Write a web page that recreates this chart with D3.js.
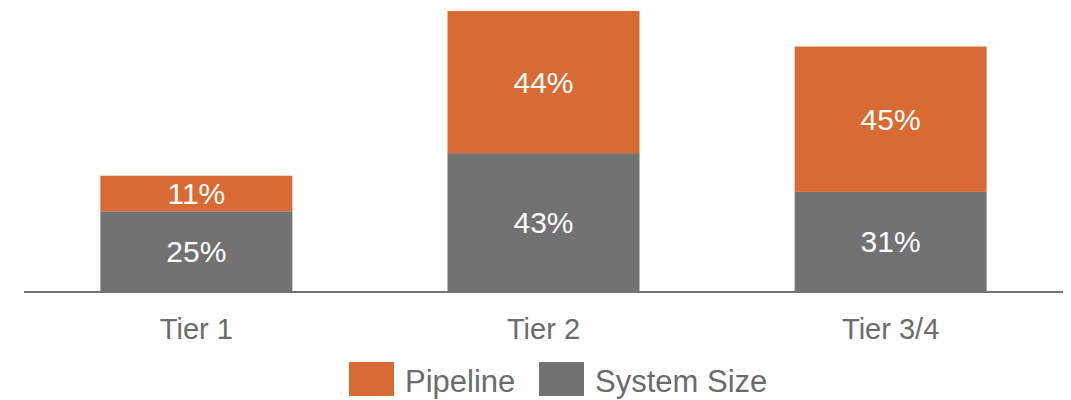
<!DOCTYPE html>
<html>
<head>
<meta charset="utf-8">
<script src="https://cdn.jsdelivr.net/npm/d3@7"></script>
<style>
  html, body { margin: 0; padding: 0; background: #fff; }
  svg { display: block; font-family: "Liberation Sans", Arial, sans-serif; }
</style>
</head>
<body>
<div id="chart"></div>
<script>
// 区分
const tiers = ["Tier 1", "Tier 2", "Tier 3/4"];
// 系列 (下から積み上げ)
const seriesNames = ["System Size", "Pipeline"];
const systemSize = [25, 43, 31];
const pipeline = [11, 44, 45];
// 凡例の並び
const legendOrder = ["Pipeline", "System Size"];

const colors = { "System Size": "#717271", "Pipeline": "#d86b33" };

const width = 1071, height = 400;
const svg = d3.select("#chart").append("svg")
  .attr("width", width).attr("height", height);

// 積み上げ用の行を作る
const rows = tiers.map((t, i) => ({ tier: t, "System Size": systemSize[i], "Pipeline": pipeline[i] }));
const stacked = d3.stack().keys(seriesNames)(rows);

const xScale = d3.scaleBand()
  .domain(tiers)
  .range([24, 1063])
  .paddingInner(0.447)
  .paddingOuter(0.22);

const yScale = d3.scaleLinear()
  .domain([0, 87])
  .range([292, 11]);

// 棒
const layer = svg.selectAll("g.layer")
  .data(stacked)
  .join("g")
  .attr("class", "layer")
  .attr("fill", d => colors[d.key]);

layer.selectAll("rect")
  .data(d => d)
  .join("rect")
  .attr("x", d => xScale(d.data.tier))
  .attr("width", xScale.bandwidth())
  .attr("y", d => yScale(d[1]))
  .attr("height", d => yScale(d[0]) - yScale(d[1]));

// 値ラベル
layer.selectAll("text")
  .data(d => d.map(v => ({ v, key: d.key })))
  .join("text")
  .attr("x", d => xScale(d.v.data.tier) + xScale.bandwidth() / 2)
  .attr("y", d => (yScale(d.v[0]) + yScale(d.v[1])) / 2)
  .attr("dy", "0.35em")
  .attr("text-anchor", "middle")
  .attr("fill", "#ffffff")
  .attr("font-size", 30)
  .text(d => d.v.data[d.key] + "%");

// x軸
const xAxis = svg.append("g")
  .attr("class", "axis axis-x")
  .attr("transform", "translate(0,292)")
  .call(d3.axisBottom(xScale).tickSize(0).tickPadding(26));
xAxis.select(".domain")
  .attr("stroke", "#737373")
  .attr("stroke-width", 2)
  .attr("d", "M24,0H1063");
xAxis.selectAll(".tick text")
  .attr("font-size", 29)
  .attr("fill", "#6b6b6b")
  .attr("font-family", "'Liberation Sans', Arial, sans-serif")
  .attr("dy", "0.71em");

// 凡例
const legendX = [349, 539];
const legend = svg.selectAll("g.legend")
  .data(legendOrder)
  .join("g")
  .attr("class", "legend")
  .attr("transform", (d, i) => `translate(${legendX[i]},362)`);
legend.append("rect")
  .attr("width", 45).attr("height", 34)
  .attr("fill", d => colors[d]);
legend.append("text")
  .attr("x", 56).attr("y", 30)
  .attr("font-size", 31)
  .attr("fill", "#6b6b6b")
  .text(d => d);
</script>
</body>
</html>
